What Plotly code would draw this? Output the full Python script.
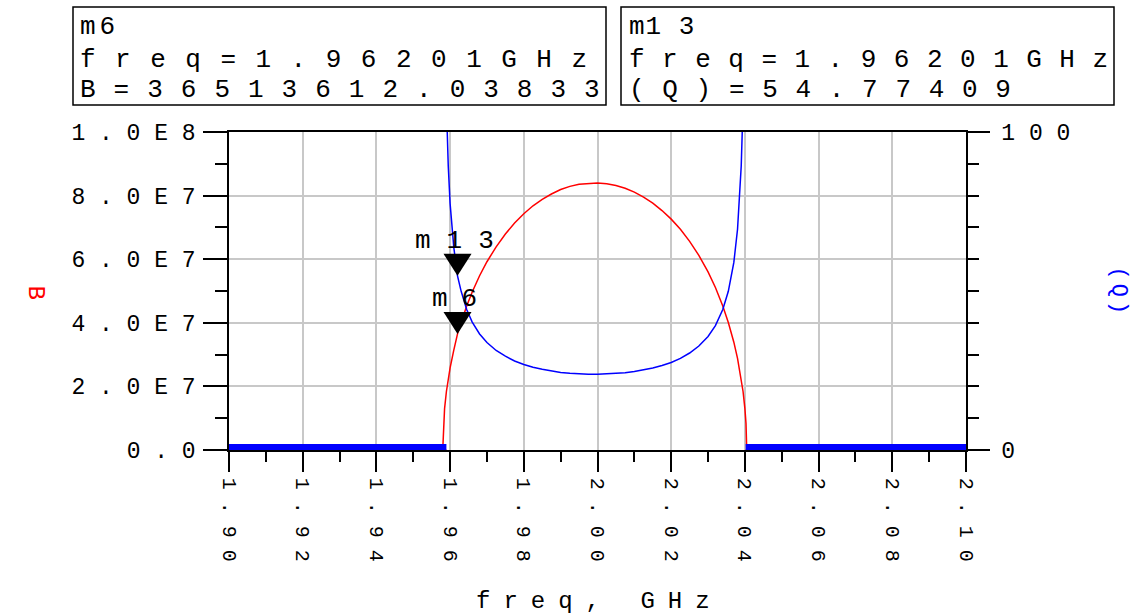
import plotly.graph_objects as go

# ---- swept data: frequency (GHz), bandwidth B (MHz) and loaded Q inside the passband ----
freq_band = [1.9580, 1.9582, 1.9585, 1.9590, 1.9595, 1.9600, 1.9610, 1.96201, 1.9630, 1.9645,
             1.9660, 1.9680, 1.9700, 1.9725, 1.9750, 1.9775, 1.9800, 1.9825, 1.9850, 1.9875,
             1.9900, 1.9925, 1.9950, 1.9975, 2.0000, 2.0025, 2.0050, 2.0075, 2.0100, 2.0125,
             2.0150, 2.0175, 2.0200, 2.0225, 2.0250, 2.0275, 2.0300, 2.0320, 2.0340, 2.0355,
             2.0370, 2.0380, 2.0390, 2.0395, 2.0400, 2.0403, 2.0405]
b_band_mhz = [0.0, 8.3, 13.0, 18.4, 22.4, 25.8, 31.4, 36.51361203833, 40.1, 45.3,
              49.7, 54.8, 59.2, 63.9, 67.9, 71.4, 74.3, 76.8, 78.8, 80.5,
              81.9, 82.9, 83.6, 83.9, 84.0, 83.7, 83.2, 82.3, 81.1, 79.5,
              77.6, 75.3, 72.6, 69.4, 65.6, 61.2, 56.0, 51.1, 45.3, 40.1,
              33.9, 28.8, 22.4, 18.4, 13.0, 8.3, 0.0]
q_band = [None, 241.0, 153.8, 108.7, 89.3, 77.5, 63.7, 54.77409, 49.9, 44.2,
          40.2, 36.5, 33.8, 31.3, 29.5, 28.0, 26.9, 26.0, 25.4, 24.8,
          24.4, 24.1, 23.9, 23.8, 23.8, 23.9, 24.0, 24.3, 24.7, 25.2,
          25.8, 26.6, 27.5, 28.8, 30.5, 32.7, 35.7, 39.1, 44.2, 49.9,
          59.0, 69.4, 89.3, 108.7, 153.8, 241.0, None]

# stop bands: B and Q are zero there
freq_low = [1.900, 1.959]
freq_high = [2.0402, 2.100]
zero_low = [0.0, 0.0]
zero_high = [0.0, 0.0]

# markers
m6_freq, m6_b = 1.96201, 36513612.03833
m13_freq, m13_q = 1.96201, 54.77409

# axis ticks
x_ticks = [1.90, 1.92, 1.94, 1.96, 1.98, 2.00, 2.02, 2.04, 2.06, 2.08, 2.10]
x_labels = ["1.90", "1.92", "1.94", "1.96", "1.98", "2.00", "2.02", "2.04", "2.06", "2.08", "2.10"]
y_ticks = [0, 2e7, 4e7, 6e7, 8e7, 1e8]
y_labels = ["0.0", "2.0E7", "4.0E7", "6.0E7", "8.0E7", "1.0E8"]
y2_ticks = [0, 100]
y2_labels = ["0", "100"]

b_band = [v * 1e6 for v in b_band_mhz]

MONO = "Liberation Mono"
RED = "#ff0000"
BLUE = "#0000ff"
GRID = "#c8c8c8"

W, H = 1137, 614
ML, MR, MT, MB = 229, 171, 132, 164
PW, PH = W - ML - MR, H - MT - MB


def px_x(px):
    return (px - ML) / PW


def px_y(py):
    return (H - MB - py) / PH


def spaced(s):
    return " ".join(s)


def tracked(s, ls):
    return '<span style="letter-spacing:%.1fpx">%s</span>' % (ls, s)


fig = go.Figure()

# B (left axis)
fig.add_trace(go.Scatter(x=freq_low, y=zero_low, mode="lines", line=dict(color=RED, width=1.5),
                         showlegend=False, hoverinfo="skip"))
fig.add_trace(go.Scatter(x=freq_high, y=zero_high, mode="lines", line=dict(color=RED, width=1.5),
                         showlegend=False, hoverinfo="skip"))
fig.add_trace(go.Scatter(x=freq_band, y=b_band, mode="lines", line=dict(color=RED, width=1.5),
                         showlegend=False, hoverinfo="skip"))
# Q (right axis); the zero stretches are drawn as a heavy band on the axis
fig.add_trace(go.Scatter(x=freq_band, y=q_band, yaxis="y2", mode="lines",
                         line=dict(color=BLUE, width=1.5), showlegend=False, hoverinfo="skip"))
fig.add_trace(go.Scatter(x=freq_low, y=zero_low, yaxis="y2", mode="lines",
                         line=dict(color=BLUE, width=12), showlegend=False, hoverinfo="skip"))
fig.add_trace(go.Scatter(x=freq_high, y=zero_high, yaxis="y2", mode="lines",
                         line=dict(color=BLUE, width=12), showlegend=False, hoverinfo="skip"))

axis_common = dict(showline=True, linecolor="black", linewidth=1.5, ticks="outside",
                   tickcolor="black", tickwidth=1.5, zeroline=False, layer="below traces")

fig.update_layout(
    width=W, height=H,
    margin=dict(l=ML, r=MR, t=MT, b=MB, pad=0),
    paper_bgcolor="white", plot_bgcolor="white",
    showlegend=False,
    xaxis=dict(range=[1.9, 2.1], tickmode="array", tickvals=x_ticks,
               ticktext=[spaced(t) for t in x_labels], tickangle=90, ticklen=20,
               ticklabelstandoff=2,
               tickfont=dict(family=MONO, size=20, color="black"),
               showgrid=True, gridcolor=GRID, gridwidth=1.5, mirror=True,
               minor=dict(dtick=0.01, tick0=1.9, ticks="outside", ticklen=10, tickwidth=1.5,
                          tickcolor="black", showgrid=False),
               **axis_common),
    yaxis=dict(range=[0, 1e8], tickmode="array", tickvals=y_ticks,
               ticktext=[spaced(t) for t in y_labels], ticklen=24, ticklabelstandoff=3,
               tickfont=dict(family=MONO, size=23, color="black"),
               showgrid=True, gridcolor=GRID, gridwidth=1.5, mirror=True,
               minor=dict(dtick=1e7, tick0=0, ticks="outside", ticklen=12, tickwidth=1.5,
                          tickcolor="black", showgrid=False),
               **axis_common),
    yaxis2=dict(range=[0, 100], overlaying="y", side="right", tickmode="array",
                tickvals=y2_ticks, ticktext=[spaced(t) for t in y2_labels], ticklen=22,
                ticklabelstandoff=7,
                tickfont=dict(family=MONO, size=23, color="black"), showgrid=False,
                minor=dict(dtick=10, tick0=0, ticks="outside", ticklen=11, tickwidth=1.5,
                           tickcolor="black", showgrid=False),
                **axis_common),
)

# marker triangles (apex on the trace point)
tri = "M -14 22 L 14 22 L 0 0 Z"
fig.add_shape(type="path", xref="x", yref="y", xsizemode="pixel", ysizemode="pixel",
              xanchor=m6_freq, yanchor=m6_b, path=tri, fillcolor="black", line=dict(width=0))
fig.add_shape(type="path", xref="x", yref="y2", xsizemode="pixel", ysizemode="pixel",
              xanchor=m13_freq, yanchor=m13_q, path=tri, fillcolor="black", line=dict(width=0))
fig.add_annotation(x=m6_freq, y=m6_b, xref="x", yref="y", text=tracked("m6", 14),
                   showarrow=False, xshift=4, yshift=35,
                   font=dict(family=MONO, size=26, color="black"))
fig.add_annotation(x=m13_freq, y=m13_q, xref="x", yref="y2", text=tracked("m13", 16),
                   showarrow=False, xshift=5, yshift=35,
                   font=dict(family=MONO, size=26, color="black"))

# marker readout boxes
boxes = [
    (73, 606, 78, [("m6", 4), ("freq=%.5fGHz" % m6_freq, 19.5), ("B=%.5f" % m6_b, 18.0)]),
    (621, 1114, 627, [("m1 3", 1), ("freq=%.5fGHz" % m13_freq, 17.5), ("(Q)=%.5f" % m13_q, 17.7)]),
]
line_y = [27, 60, 90]
for x0, x1, tx, lines in boxes:
    fig.add_shape(type="rect", xref="paper", yref="paper", x0=px_x(x0), x1=px_x(x1),
                  y0=px_y(105), y1=px_y(7), line=dict(color="black", width=1.5))
    for (txt, ls), yc in zip(lines, line_y):
        fig.add_annotation(xref="paper", yref="paper", x=px_x(tx), y=px_y(yc),
                           xanchor="left", yanchor="middle", showarrow=False,
                           text=tracked(txt, ls),
                           font=dict(family=MONO, size=26, color="black"))

# axis titles
fig.add_annotation(xref="paper", yref="paper", x=px_x(20), y=px_y(292), text="B",
                   textangle=90, showarrow=False, font=dict(family=MONO, size=24, color=RED))
fig.add_annotation(xref="paper", yref="paper", x=px_x(1133), y=px_y(292), text=tracked("(Q)", 4),
                   textangle=90, showarrow=False, font=dict(family=MONO, size=22, color=BLUE))
fig.add_annotation(xref="paper", yref="paper", x=px_x(599), y=px_y(617),
                   text=tracked("freq, GHz", 13), showarrow=False,
                   font=dict(family=MONO, size=24, color="black"))

fig.write_html("out.html")
